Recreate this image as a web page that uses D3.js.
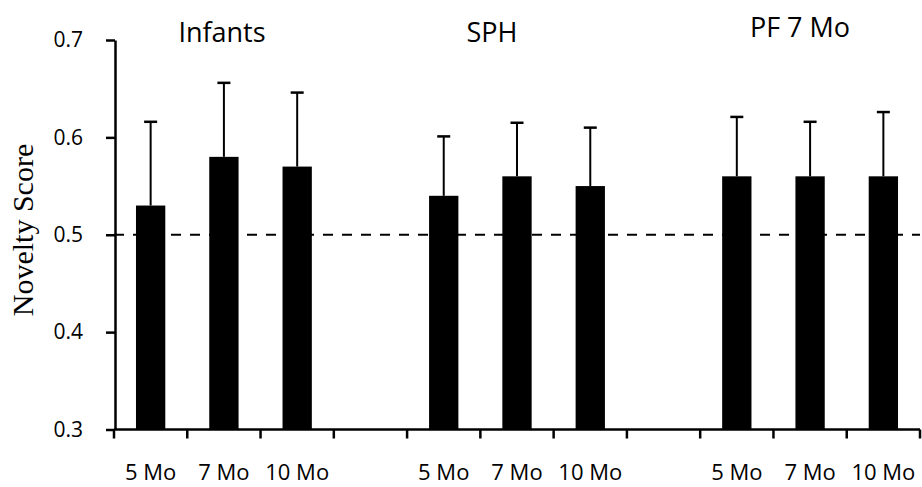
<!DOCTYPE html>
<html>
<head>
<meta charset="utf-8">
<script src="https://cdn.jsdelivr.net/npm/d3@7"></script>
<style>
  html, body { margin: 0; padding: 0; background: #fff; }
  svg { display: block; }
</style>
</head>
<body>
<svg id="chart" width="922" height="487"></svg>
<script>
// ---- data ----
const groups = ["Infants", "SPH", "PF 7 Mo"];
const ages = ["5 Mo", "7 Mo", "10 Mo"];
const means = [0.53, 0.58, 0.57, 0.54, 0.56, 0.55, 0.56, 0.56, 0.56];
const errors = [0.086, 0.076, 0.076, 0.061, 0.055, 0.060, 0.061, 0.056, 0.066];
const yTicks = [0.3, 0.4, 0.5, 0.6, 0.7];
const chanceLevel = 0.5;

// slots: three bars per group, an empty slot between groups
const slots = [];
groups.forEach((g, gi) => {
  ages.forEach(a => slots.push(g + "|" + a));
  if (gi < groups.length - 1) slots.push("gap" + gi);
});
const bars = [];
groups.forEach((g, gi) => ages.forEach((a, ai) => {
  const i = gi * ages.length + ai;
  bars.push({ key: g + "|" + a, group: g, age: a, mean: means[i], err: errors[i] });
}));

const svg = d3.select("#chart");
const font = "'Open Sans', sans-serif";

const x = d3.scaleBand().domain(slots).range([114, 920]).padding(0);
const y = d3.scaleLinear().domain([0.3, 0.7]).range([429.5, 40]);
const barW = x.bandwidth() * 0.4;

// dashed chance line
svg.append("line")
  .attr("x1", x.range()[0]).attr("x2", x.range()[1])
  .attr("y1", y(chanceLevel)).attr("y2", y(chanceLevel))
  .attr("stroke", "#000").attr("stroke-width", 2)
  .attr("stroke-dasharray", "10,9");

// error bars (upper only)
const eb = svg.append("g");
bars.forEach(d => {
  const cx = x(d.key) + x.bandwidth() / 2;
  eb.append("line")
    .attr("x1", cx).attr("x2", cx)
    .attr("y1", y(d.mean)).attr("y2", y(d.mean + d.err))
    .attr("stroke", "#000").attr("stroke-width", 2);
  eb.append("line")
    .attr("x1", cx - 6.5).attr("x2", cx + 6.5)
    .attr("y1", y(d.mean + d.err)).attr("y2", y(d.mean + d.err))
    .attr("stroke", "#000").attr("stroke-width", 2.5);
});

// bars
svg.append("g").selectAll("rect").data(bars).join("rect")
  .attr("x", d => x(d.key) + (x.bandwidth() - barW) / 2)
  .attr("width", barW)
  .attr("y", d => y(d.mean))
  .attr("height", d => y(0.3) - y(d.mean))
  .attr("fill", "#000");

// y axis
const yAxis = d3.axisLeft(y).tickValues(yTicks).tickFormat(d3.format(".1f"))
  .tickSize(9).tickSizeOuter(0).tickPadding(23);
const gy = svg.append("g").attr("transform", "translate(115,0)").call(yAxis);
gy.select(".domain").attr("stroke", "#000").attr("stroke-width", 2.5);
gy.selectAll(".tick line").attr("stroke", "#000").attr("stroke-width", 2.5);
gy.selectAll(".tick text").attr("font-family", font).attr("font-size", 21).attr("fill", "#000");

// x axis line and boundary ticks
const gx = svg.append("g");
gx.append("line")
  .attr("x1", x.range()[0]).attr("x2", x.range()[1])
  .attr("y1", y(0.3)).attr("y2", y(0.3))
  .attr("stroke", "#000").attr("stroke-width", 2.5);
const tickPos = slots.map(s => x(s)).concat([x.range()[1]]);
gx.selectAll("line.t").data(tickPos).join("line").attr("class", "t")
  .attr("x1", d => d).attr("x2", d => d)
  .attr("y1", y(0.3)).attr("y2", y(0.3) + 9)
  .attr("stroke", "#000").attr("stroke-width", 2.5);

// x labels
svg.append("g").selectAll("text").data(bars).join("text")
  .attr("x", d => x(d.key) + x.bandwidth() / 2)
  .attr("y", 480)
  .attr("text-anchor", "middle")
  .attr("font-family", font).attr("font-size", 22)
  .attr("fill", "#000")
  .text(d => d.age);

// group titles
const titleX = [222, 492, 800];
const titleY = [42, 42, 37];
svg.append("g").selectAll("text").data(groups).join("text")
  .attr("x", (d, i) => titleX[i])
  .attr("y", (d, i) => titleY[i])
  .attr("text-anchor", "middle")
  .attr("font-family", font).attr("font-size", 27)
  .attr("fill", "#000")
  .text(d => d);

// y axis title
svg.append("text")
  .attr("transform", "translate(33,230) rotate(-90)")
  .attr("text-anchor", "middle")
  .attr("font-family", "'Liberation Serif', 'Times New Roman', serif")
  .attr("font-size", 30)
  .attr("fill", "#000")
  .text("Novelty Score");
</script>
</body>
</html>
